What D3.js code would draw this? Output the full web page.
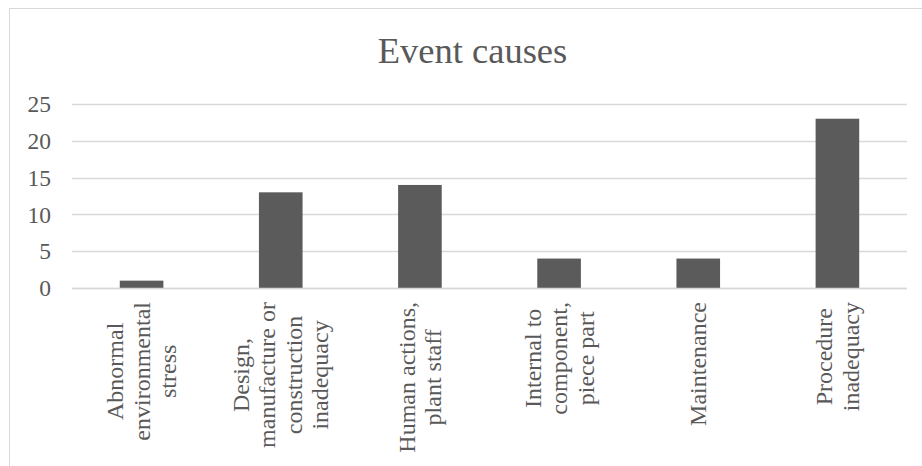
<!DOCTYPE html>
<html>
<head>
<meta charset="utf-8">
<script src="https://cdn.jsdelivr.net/npm/d3@7"></script>
<style>
  html, body { margin: 0; padding: 0; background: #fff; }
  svg { display: block; font-family: "Liberation Serif", "Times New Roman", serif; }
</style>
</head>
<body>
<svg id="chart" width="922" height="466"></svg>
<script>
// Event cause categories, one line array per label
const categories = [
  ["Abnormal", "environmental", "stress"],
  ["Design,", "manufacture or", "construction", "inadequacy"],
  ["Human actions,", "plant staff"],
  ["Internal to", "component,", "piece part"],
  ["Maintenance"],
  ["Procedure", "inadequacy"]
];
const counts = [1, 13, 14, 4, 4, 23];
const yTicks = [0, 5, 10, 15, 20, 25];
const title = "Event causes";

const svg = d3.select("#chart");
const plot = { left: 72, right: 907, top: 104, bottom: 288 };
const textColor = "#595959";
const gridColor = "#d9d9d9";

// chart area outline (extends past the window on the right and bottom)
svg.append("rect")
  .attr("x", 9.5).attr("y", 8.5)
  .attr("width", 930).attr("height", 470)
  .attr("fill", "#fff")
  .attr("stroke", gridColor).attr("stroke-width", 1);

svg.append("text")
  .attr("x", 472.5).attr("y", 63)
  .attr("text-anchor", "middle")
  .attr("font-size", 36.5)
  .attr("fill", textColor)
  .text(title);

const x = d3.scaleBand()
  .domain(d3.range(categories.length))
  .range([plot.left, plot.right])
  .paddingInner(0.6866).paddingOuter(0.3433);

const y = d3.scaleLinear()
  .domain([0, 25])
  .range([plot.bottom, plot.top]);

// horizontal gridlines
svg.append("g")
  .selectAll("line")
  .data(yTicks)
  .join("line")
  .attr("x1", plot.left).attr("x2", plot.right)
  .attr("y1", d => Math.round(y(d)) + 0.5)
  .attr("y2", d => Math.round(y(d)) + 0.5)
  .attr("stroke", gridColor).attr("stroke-width", 1.3);

// y tick labels
svg.append("g")
  .selectAll("text")
  .data(yTicks)
  .join("text")
  .attr("x", 51)
  .attr("y", d => y(d))
  .attr("dy", "0.35em")
  .attr("text-anchor", "end")
  .attr("font-size", 23.5)
  .attr("fill", textColor)
  .text(d => d);

// bars
svg.append("g")
  .selectAll("rect")
  .data(counts)
  .join("rect")
  .attr("x", (d, i) => x(i))
  .attr("width", x.bandwidth())
  .attr("y", d => y(d))
  .attr("height", d => y(0) - y(d))
  .attr("fill", "#5b5b5b");

// redraw the zero line above bars
svg.append("line")
  .attr("x1", plot.left).attr("x2", plot.right)
  .attr("y1", Math.round(y(0)) + 0.5).attr("y2", Math.round(y(0)) + 0.5)
  .attr("stroke", gridColor).attr("stroke-width", 1.3);

// rotated category labels, top-aligned below the axis, lines centered
const labelTop = 302;
const fs = 24;
const lineH = 26.5;
const cat = svg.append("g");
categories.forEach((lines, i) => {
  const cx = x(i) + x.bandwidth() / 2;
  const g = cat.append("g");
  const texts = lines.map(t => g.append("text")
    .attr("font-size", fs)
    .attr("fill", textColor)
    .attr("text-anchor", "middle")
    .text(t));
  const maxLen = d3.max(texts, t => t.node().getComputedTextLength());
  const cy = labelTop + maxLen / 2;
  const n = lines.length;
  texts.forEach((t, k) => {
    const bx = cx + (k - (n - 1) / 2) * lineH + fs * 0.33;
    t.attr("transform", `translate(${bx},${cy}) rotate(-90)`);
  });
});
</script>
</body>
</html>
